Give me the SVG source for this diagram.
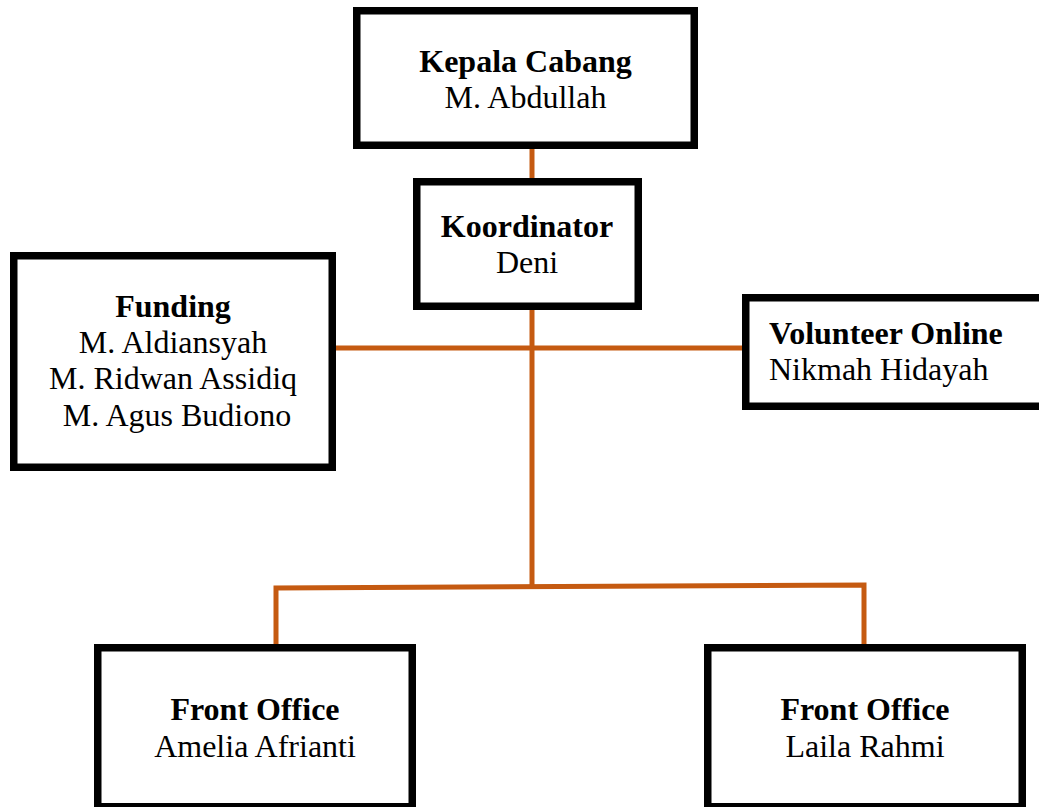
<svg xmlns="http://www.w3.org/2000/svg" width="1039" height="807" viewBox="0 0 1039 807">
<style>
.box{fill:#fff;stroke:#000;stroke-width:7.5}
.con{fill:none;stroke:#C55A11;stroke-width:5;stroke-linejoin:miter}
text{font-family:"Liberation Serif","Times New Roman",serif;font-size:32px;fill:#000}
.b{font-weight:bold}
.c{text-anchor:middle}
</style>
<rect width="1039" height="807" fill="#fff"/>
<g id="connectors">
<line class="con" x1="532" y1="149" x2="532" y2="178"/>
<line class="con" x1="532" y1="310" x2="532" y2="587"/>
<line class="con" x1="336" y1="348" x2="742" y2="348"/>
<path class="con" d="M276,646 L276,588 L864,585 L864,645"/>
</g>
<g id="kepala">
<rect class="box" x="356.75" y="10.75" width="337.5" height="134.5"/>
<text class="b c" x="525.5" y="72">Kepala Cabang</text>
<text class="c" x="525.5" y="108">M. Abdullah</text>
</g>
<g id="koordinator">
<rect class="box" x="416.75" y="181.75" width="221.5" height="124.5"/>
<text class="b c" x="527" y="237">Koordinator</text>
<text class="c" x="527" y="273">Deni</text>
</g>
<g id="funding">
<rect class="box" x="13.75" y="255.75" width="318.5" height="211.5"/>
<text class="b c" x="173" y="317">Funding</text>
<text class="c" x="173" y="353">M. Aldiansyah</text>
<text class="c" x="173" y="389">M. Ridwan Assidiq</text>
<text class="c" x="177" y="426">M. Agus Budiono</text>
</g>
<g id="volunteer">
<rect class="box" x="745.75" y="297.75" width="310" height="108.5"/>
<text class="b" x="769" y="344">Volunteer Online</text>
<text x="769" y="380">Nikmah Hidayah</text>
</g>
<g id="fo-left">
<rect class="box" x="97.75" y="647.75" width="314.5" height="159"/>
<text class="b c" x="255" y="720">Front Office</text>
<text class="c" x="255" y="757">Amelia Afrianti</text>
</g>
<g id="fo-right">
<rect class="box" x="707.75" y="647.75" width="314.5" height="159"/>
<text class="b c" x="865" y="720">Front Office</text>
<text class="c" x="865" y="757">Laila Rahmi</text>
</g>
</svg>
